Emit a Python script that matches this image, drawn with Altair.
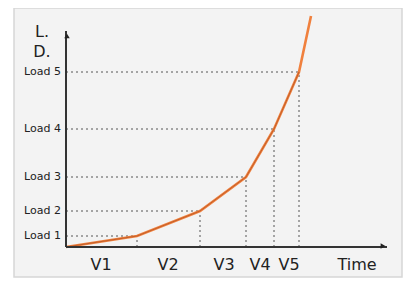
import altair as alt
import pandas as pd

# ---- data ----
v_labels = ["V1", "V2", "V3", "V4", "V5"]
load_labels = ["Load 1", "Load 2", "Load 3", "Load 4", "Load 5"]
t_break = [7.1, 13.4, 18.0, 20.8, 23.3]      # time at which each load is reached
load_vals = [1.1, 3.6, 7.0, 11.8, 17.5]       # load levels
v_label_t = [3.5, 10.2, 15.8, 19.4, 22.3]     # positions of interval labels
curve_t = [0.0] + t_break + [24.5]
curve_load = [0.0] + load_vals + [23.1]

W, H = 321, 216
xs = alt.Scale(domain=[0, 32.1], nice=False, zero=False)
ys = alt.Scale(domain=[0, 21.6], nice=False, zero=False)

pts = pd.DataFrame({"t": t_break, "load": load_vals, "lab": load_labels, "zero": 0.0})
curve = pd.DataFrame({"t": curve_t, "load": curve_load})
vlab = pd.DataFrame({"t": v_label_t, "lab": v_labels})

base_font = "DejaVu Sans"

frame = alt.Chart(pd.DataFrame({"a": [0]})).mark_rect(
    fill="#f3f3f3", stroke="#d6d6d6", strokeWidth=1.5
).encode(x=alt.value(-52), x2=alt.value(336), y=alt.value(-23), y2=alt.value(246))

hgrid = alt.Chart(pts).mark_rule(color="#555555", strokeDash=[2, 3], strokeWidth=1).encode(
    x=alt.X("zero:Q", scale=xs, axis=None), x2="t:Q",
    y=alt.Y("load:Q", scale=ys, axis=None))

vgrid = alt.Chart(pts).mark_rule(color="#555555", strokeDash=[2, 3], strokeWidth=1).encode(
    x=alt.X("t:Q", scale=xs, axis=None),
    y=alt.Y("zero:Q", scale=ys, axis=None), y2="load:Q")

yaxis = alt.Chart(pd.DataFrame({"a": [0]})).mark_rule(color="#333333", strokeWidth=2).encode(
    x=alt.value(0), y=alt.value(0), y2=alt.value(H))
xaxis = alt.Chart(pd.DataFrame({"a": [0]})).mark_rule(color="#333333", strokeWidth=2).encode(
    x=alt.value(0), x2=alt.value(W), y=alt.value(H))

yarrow = alt.Chart(pd.DataFrame({"a": [0]})).mark_point(
    shape="triangle-up", filled=True, color="#222222", size=30, opacity=1
).encode(x=alt.value(1), y=alt.value(5))
xarrow = alt.Chart(pd.DataFrame({"a": [0]})).mark_point(
    shape="triangle-right", filled=True, color="#222222", size=30, opacity=1
).encode(x=alt.value(W - 4), y=alt.value(H - 1))

line = alt.Chart(curve).mark_line(color="#f0803d", strokeWidth=2.6, clip=False).encode(
    x=alt.X("t:Q", scale=xs, axis=None), y=alt.Y("load:Q", scale=ys, axis=None))
line_dark = alt.Chart(curve.iloc[:-1]).mark_line(
    color="#8a3512", strokeWidth=1.0, opacity=0.45, clip=False).encode(
    x=alt.X("t:Q", scale=xs, axis=None), y=alt.Y("load:Q", scale=ys, axis=None))

ylabels = alt.Chart(pts).mark_text(
    align="right", baseline="middle", font=base_font, fontSize=11, color="#222222", dx=-5
).encode(x=alt.value(0), y=alt.Y("load:Q", scale=ys, axis=None), text="lab:N")

xlabels = alt.Chart(vlab).mark_text(
    align="center", baseline="middle", font=base_font, fontSize=16, color="#222222"
).encode(x=alt.X("t:Q", scale=xs, axis=None), y=alt.value(234), text="lab:N")

extra = pd.DataFrame({"lab": ["Time", "L.", "D."], "px": [291, -24, -24], "py": [234, 1, 21]})
extra_text = alt.Chart(extra).mark_text(
    align="center", baseline="middle", font=base_font, fontSize=16, color="#222222"
).encode(x=alt.X("px:Q", scale=None), y=alt.Y("py:Q", scale=None), text="lab:N")

chart = alt.layer(
    frame, hgrid, vgrid, line, line_dark, yaxis, xaxis, yarrow, xarrow,
    ylabels, xlabels, extra_text
).properties(
    width=W, height=H,
    autosize=alt.AutoSizeParams(type="none"),
    padding={"left": 58, "top": 23, "right": 16, "bottom": 31},
    background="white",
).configure_view(stroke=None)

chart.save("out.html", embed_options={"renderer": "svg", "actions": False})
